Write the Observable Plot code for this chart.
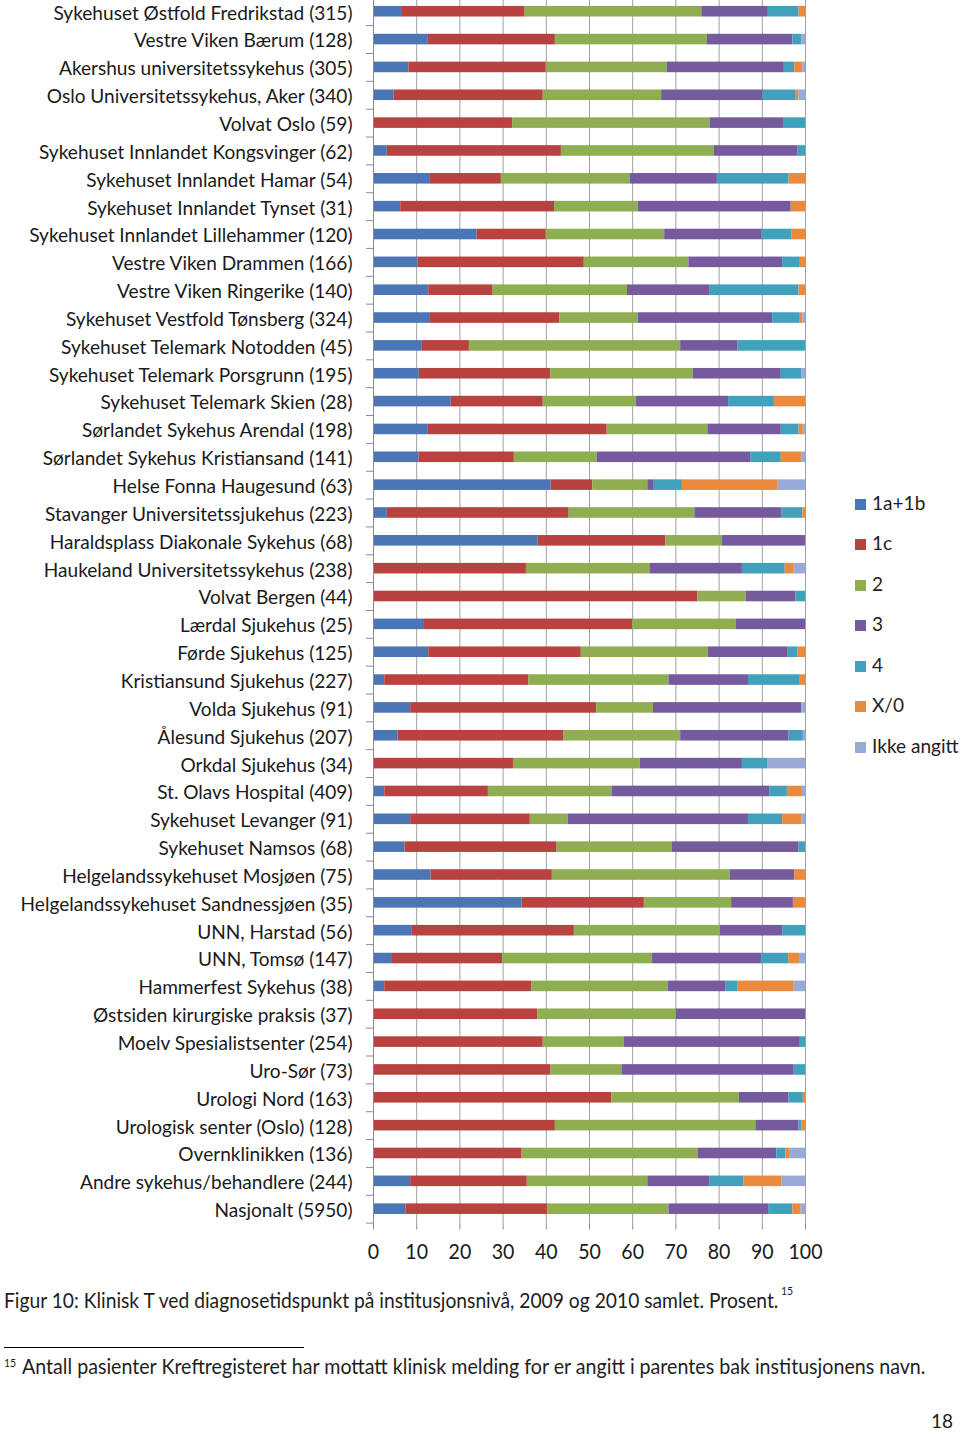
<!DOCTYPE html>
<html><head><meta charset="utf-8">
<script src="https://cdn.jsdelivr.net/npm/d3@7"></script>
<script src="https://cdn.jsdelivr.net/npm/@observablehq/plot@0.6"></script>
<style>
body{margin:0;background:#fff;font-family:Lato,"Open Sans",sans-serif;color:#1e1e1e;}
#wrap{position:relative;width:960px;height:1434px;overflow:hidden;}
#chart{position:absolute;left:0;top:0;}
.t{position:absolute;white-space:nowrap;line-height:1;transform-origin:0 0;}
.sw{position:absolute;width:11px;height:11px;}
.rule{position:absolute;left:4px;top:1347px;width:300px;height:1px;background:#000;}
</style></head><body><div id="wrap"><div id="chart"></div></div>
<script>
const institutions = [
"Sykehuset Østfold Fredrikstad (315)","Vestre Viken Bærum (128)","Akershus universitetssykehus (305)",
"Oslo Universitetssykehus, Aker (340)","Volvat Oslo (59)","Sykehuset Innlandet Kongsvinger (62)",
"Sykehuset Innlandet Hamar (54)","Sykehuset Innlandet Tynset (31)","Sykehuset Innlandet Lillehammer (120)",
"Vestre Viken Drammen (166)","Vestre Viken Ringerike (140)","Sykehuset Vestfold Tønsberg (324)",
"Sykehuset Telemark Notodden (45)","Sykehuset Telemark Porsgrunn (195)","Sykehuset Telemark Skien (28)",
"Sørlandet Sykehus Arendal (198)","Sørlandet Sykehus Kristiansand (141)","Helse Fonna Haugesund (63)",
"Stavanger Universitetssjukehus (223)","Haraldsplass Diakonale Sykehus (68)","Haukeland Universitetssykehus (238)",
"Volvat Bergen (44)","Lærdal Sjukehus (25)","Førde Sjukehus (125)","Kristiansund Sjukehus (227)",
"Volda Sjukehus (91)","Ålesund Sjukehus (207)","Orkdal Sjukehus (34)","St. Olavs Hospital (409)",
"Sykehuset Levanger (91)","Sykehuset Namsos (68)","Helgelandssykehuset Mosjøen (75)",
"Helgelandssykehuset Sandnessjøen (35)","UNN, Harstad (56)","UNN, Tomsø (147)","Hammerfest Sykehus (38)",
"Østsiden kirurgiske praksis (37)","Moelv Spesialistsenter (254)","Uro-Sør (73)","Urologi Nord (163)",
"Urologisk senter (Oslo) (128)","Overnklinikken (136)","Andre sykehus/behandlere (244)","Nasjonalt (5950)"];

const categories = ["1a+1b","1c","2","3","4","X/0","Ikke angitt"];
const colors = ["#4a76b5","#b8423f","#8fae51","#765a9e","#41a0bc","#e98a3e","#97abd6"];
const xTicks = [0,10,20,30,40,50,60,70,80,90,100];

const s1a1b = [6.5,12.7,8.2,4.8,0,3.2,13.0,6.3,24.0,10.3,12.8,13.0,11.3,10.6,18.0,12.7,10.5,41.1,3.2,38.1,0,0,11.8,12.8,2.6,8.6,5.7,0,2.6,8.6,7.3,13.3,34.4,9.0,4.2,2.6,0,0,0,0,0,0,8.6,7.5];
const s1c   = [28.6,29.4,31.8,34.5,32.2,40.3,16.6,35.6,16.0,38.5,14.9,30.1,10.9,30.4,21.3,41.4,22.1,9.7,42.1,29.6,35.4,75.1,48.2,35.3,33.4,43.1,38.3,32.4,24.0,27.7,35.2,28.1,28.3,37.5,25.7,34.1,38.0,39.3,41.1,55.2,42.1,34.4,27.0,32.8];
const s2    = [40.9,35.2,28.0,27.4,45.8,35.4,29.9,19.4,27.4,24.2,31.1,18.2,48.9,33.0,21.6,23.3,19.2,12.7,29.1,13.1,28.6,11.2,24.0,29.4,32.4,13.1,27.1,29.3,28.6,8.8,26.6,41.2,20.2,33.8,34.7,31.6,32.1,18.7,16.4,29.5,46.4,40.7,27.9,28.1];
const s3    = [15.4,19.8,27.1,23.5,16.9,19.4,20.1,35.4,22.6,21.7,19.0,31.1,13.3,20.4,21.3,17.0,35.5,1.5,20.2,19.2,21.4,11.5,16.0,18.5,18.4,34.3,25.1,23.7,36.5,41.7,29.4,14.9,14.3,14.4,25.2,13.2,29.9,40.8,39.9,11.5,10.0,18.3,14.3,23.2];
const s4    = [7.1,2.1,2.4,7.5,5.1,1.7,16.6,0,6.8,4.1,20.7,6.4,15.6,4.7,10.6,4.1,7.1,6.5,4.8,0,9.9,2.2,0,2.3,12.0,0,3.3,5.8,4.1,7.9,1.5,0,0,5.3,6.3,2.8,0,1.2,2.6,3.3,0.7,2.1,7.9,5.5];
const sX0   = [1.5,0,1.9,0.8,0,0,3.8,3.3,3.2,1.2,1.5,0.6,0,0,7.2,1.0,4.8,22.2,0.6,0,2.1,0,0,1.7,1.2,0,0,0,3.5,4.4,0,2.5,2.8,0,2.5,13.1,0,0,0,0.5,0.8,0.8,8.9,1.9];
const sIkke = [0,0.8,0.6,1.5,0,0,0,0,0,0,0,0.6,0,0.9,0,0.5,0.8,6.3,0,0,2.6,0,0,0,0,0.9,0.5,8.8,0.7,0.9,0,0,0,0,1.4,2.6,0,0,0,0,0,3.7,5.4,1.0];

const series = [s1a1b,s1c,s2,s3,s4,sX0,sIkke];
const data = [];
institutions.forEach((name,i)=>categories.forEach((cat,j)=>data.push({name,cat,value:series[j][i]})));

const yTop = -2.7, yBottom = 1222.6, H = 1278;
const step = (yBottom - yTop) / institutions.length;
const axisColor = "#8c8c8c";

const chart = Plot.plot({
  width: 960, height: H,
  marginLeft: 373, marginRight: 155, marginTop: 0, marginBottom: H - yBottom,
  style: {fontFamily: "Lato, 'Open Sans', sans-serif", fontSize: "20px", color: "#1a1a1a", background: "transparent", overflow: "visible"},
  x: {domain: [0,100]},
  y: {domain: institutions, range: [yTop, yBottom], paddingInner: 0.62, paddingOuter: 0.31},
  color: {domain: categories, range: colors},
  marks: [
    Plot.ruleX(xTicks.slice(1), {stroke: "#a0a0a0", strokeWidth: 1}),
    Plot.barX(data, Plot.stackX({x: "value", y: "name", fill: "cat"})),
    Plot.ruleX([0], {stroke: axisColor, strokeWidth: 1}),
    Plot.ruleY(institutions, {y: d => d, x1: -1.62, x2: 0, dy: step/2, stroke: axisColor}),
    Plot.axisY({tickSize: 0, tickPadding: 21, label: null, fontSize: 20, dy: 1.5}),
    Plot.axisX(xTicks, {tickSize: 7, tickPadding: 14, label: null, fontSize: 20.5, stroke: axisColor})
  ]
});
document.getElementById("chart").appendChild(chart);

// Condense text like the reference (narrow rendering)
const texts = chart.querySelectorAll("text");
let first = null;
texts.forEach(t => { if (!first && t.textContent === institutions[0]) first = t; });
const k = first ? 299 / first.getComputedTextLength() : 0.85;
texts.forEach(t => {
  const L = t.getComputedTextLength();
  if (L > 0) { t.setAttribute("textLength", L * k); t.setAttribute("lengthAdjust", "spacingAndGlyphs"); }
});

const wrap = document.getElementById("wrap");
function addText(str, left, top, size) {
  const d = document.createElement("div");
  d.className = "t"; d.textContent = str;
  d.style.left = left + "px"; d.style.top = top + "px"; d.style.fontSize = size + "px";
  d.style.transform = `scaleX(${k})`;
  wrap.appendChild(d); return d;
}
// legend
categories.forEach((c,i) => {
  const cy = 504 + i*40.5;
  const s = document.createElement("div");
  s.className = "sw"; s.style.left = "855px"; s.style.top = (cy-5.5) + "px"; s.style.background = colors[i];
  wrap.appendChild(s);
  addText(c, 872, cy - 12.5, 20);
});
// caption and footnote
addText("Figur 10: Klinisk T ved diagnosetidspunkt på institusjonsnivå, 2009 og 2010 samlet. Prosent.", 4, 1290, 20.2);
addText("15", 781, 1285, 11);
const r = document.createElement("div"); r.className = "rule"; wrap.appendChild(r);
addText("15", 4, 1357, 11);
addText("Antall pasienter Kreftregisteret har mottatt klinisk melding for er angitt i parentes bak institusjonens navn.", 22, 1356, 20.6);
addText("18", 931, 1410, 20);
</script></body></html>
